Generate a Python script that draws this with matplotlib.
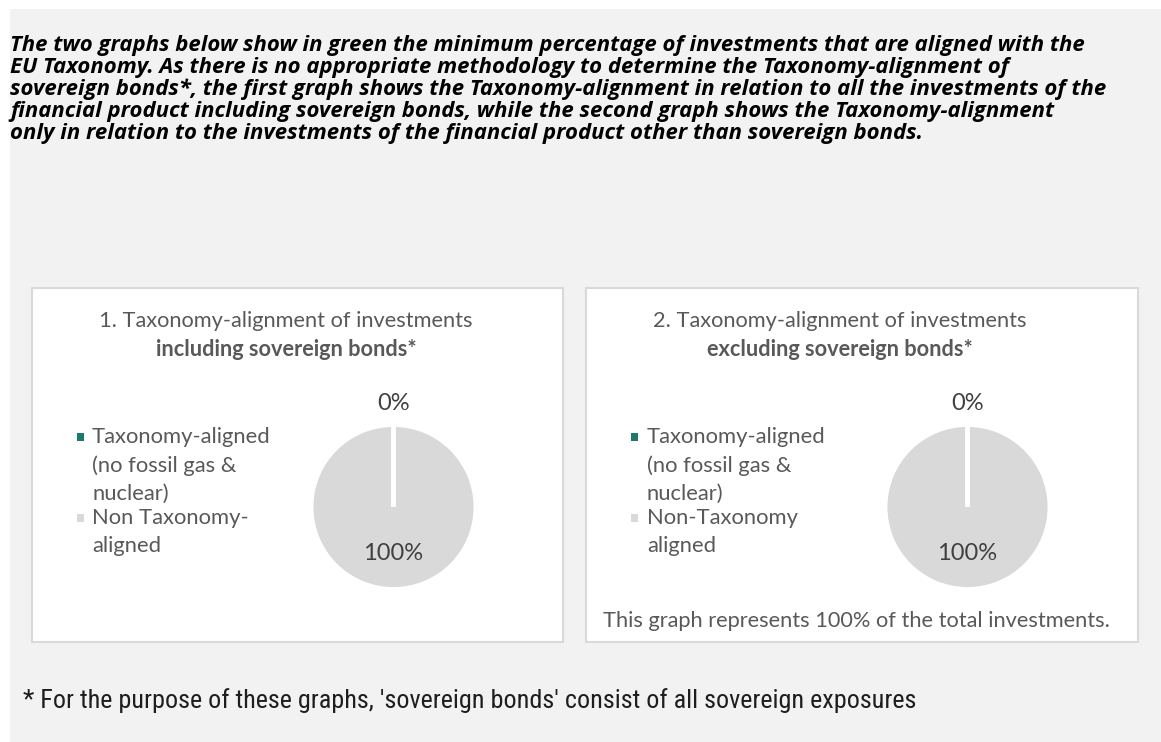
import numpy as np
import matplotlib.pyplot as plt
from matplotlib.patches import Rectangle

# Data
categories = ["Taxonomy-aligned\n(no fossil gas &\nnuclear)", "Non Taxonomy-\naligned"]
categories_2 = ["Taxonomy-aligned\n(no fossil gas &\nnuclear)", "Non-Taxonomy\naligned"]
values_incl = [0, 100]
values_excl = [0, 100]
pct_labels_incl = ["0%", "100%"]
pct_labels_excl = ["0%", "100%"]
colors = ["#1b7a6b", "#d9d9d9"]

header = ["The two graphs below show in green the minimum percentage of investments that are aligned with the",
          "EU Taxonomy. As there is no appropriate methodology to determine the Taxonomy-alignment of",
          "sovereign bonds*, the first graph shows the Taxonomy-alignment in relation to all the investments of the",
          "financial product including sovereign bonds, while the second graph shows the Taxonomy-alignment",
          "only in relation to the investments of the financial product other than sovereign bonds."]
title_1 = ["1. Taxonomy-alignment of investments", "including sovereign bonds*"]
title_2 = ["2. Taxonomy-alignment of investments", "excluding sovereign bonds*"]
note_2 = "This graph represents 100% of the total investments."
footnote = "* For the purpose of these graphs, 'sovereign bonds' consist of all sovereign exposures"

W, H = 1161, 742
fig = plt.figure(figsize=(W / 100, H / 100), dpi=100)
fig.patch.set_facecolor("white")

# Background axes in pixel units
bg = fig.add_axes([0, 0, 1, 1])
bg.set_xlim(0, W)
bg.set_ylim(H, 0)
bg.axis("off")

bg.add_patch(Rectangle((10, 9), W - 10, H - 9, facecolor="#f2f2f2", edgecolor="none"))
for x0, x1 in [(31.5, 563), (585.5, 1138)]:
    bg.add_patch(Rectangle((x0, 288), x1 - x0, 353.5, facecolor="white",
                           edgecolor="#d9d9d9", linewidth=1.5))

txt_gray = "#595959"
body = ["Lato", "DejaVu Sans"]

# header paragraph, one line at a time
for i, line in enumerate(header):
    bg.text(10, 45 + 22.2 * i, line, fontsize=15.9, fontweight="bold", fontstyle="italic",
            family=["Open Sans", "DejaVu Sans"], color="black", va="center", ha="left")

for cx, t in [(286, title_1), (840, title_2)]:
    bg.text(cx, 321, t[0], fontsize=15.7, family=body, color=txt_gray, ha="center", va="center")
    bg.text(cx, 349, t[1], fontsize=15.7, family=body, fontweight="bold", color=txt_gray,
            ha="center", va="center")

bg.text(603, 621, note_2, fontsize=15.7, family=body, color=txt_gray, ha="left", va="center")
bg.text(23, 701, footnote, fontsize=18.8,
        family=["Roboto Condensed", "Liberation Sans Narrow", "DejaVu Sans"],
        fontstretch="condensed", color="#1e1e1e", ha="left", va="center")


def legend(labels, mx, tx):
    y = 437
    for lab, col in zip(labels, colors):
        bg.add_patch(Rectangle((mx - 3.5, y - 4), 7, 8, facecolor=col, edgecolor="none"))
        for k, part in enumerate(lab.split("\n")):
            bg.text(tx, y + 28.5 * k, part, fontsize=15.8, family=body, color=txt_gray,
                    ha="left", va="center")
        y += 81


legend(categories, 80.5, 92)
legend(categories_2, 634, 647)


def pie(cx, cy, vals, labels):
    r = 82.5
    half = 110
    ax = fig.add_axes([(cx - half) / W, 1 - (cy + half) / H, 2 * half / W, 2 * half / H])
    wedges, _ = ax.pie(vals, colors=colors, startangle=90, counterclock=False, radius=1,
                       wedgeprops=dict(edgecolor="white", linewidth=3.5))
    # keep the empty slice's white edge visible on top of the full one
    for i, w in enumerate(wedges):
        w.set_zorder(10 - i)
    ax.set_xlim(-half / r, half / r)
    ax.set_ylim(-half / r, half / r)
    ax.set_aspect("equal")
    ax.axis("off")
    dist = [1.26, 0.56]
    for w, lab, d in zip(wedges, labels, dist):
        ang = np.deg2rad((w.theta1 + w.theta2) / 2)
        ax.text(d * np.cos(ang), d * np.sin(ang), lab, fontsize=17, family=body,
                color="#404040", ha="center", va="center", zorder=20)


pie(393.5, 507, values_incl, pct_labels_incl)
pie(967.5, 507, values_excl, pct_labels_excl)

fig.savefig("out.png", dpi=100)
